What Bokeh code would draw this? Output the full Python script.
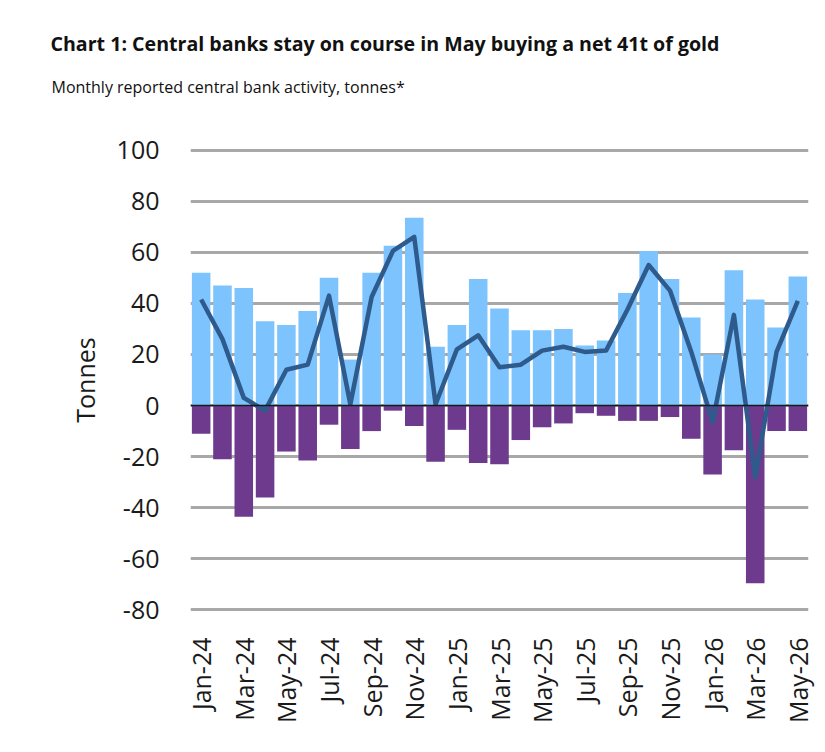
from bokeh.plotting import figure
from bokeh.models import Range1d, FixedTicker, Span, Title
from bokeh.embed import file_html
from bokeh.resources import INLINE
from bokeh.core.properties import value
import math

months = ["Jan-24", "Feb-24", "Mar-24", "Apr-24", "May-24", "Jun-24", "Jul-24", "Aug-24",
          "Sep-24", "Oct-24", "Nov-24", "Dec-24", "Jan-25", "Feb-25", "Mar-25", "Apr-25",
          "May-25", "Jun-25", "Jul-25", "Aug-25", "Sep-25", "Oct-25", "Nov-25", "Dec-25",
          "Jan-26", "Feb-26", "Mar-26", "Apr-26", "May-26"]
gross_purchases = [52, 47, 46, 33, 31.5, 37, 50, 18, 52, 62.5, 73.5, 23, 31.5, 49.5, 38,
                   29.5, 29.5, 30, 23.5, 25.5, 44, 60.5, 49.5, 34.5, 20, 53, 41.5, 30.5, 50.5]
gross_sales = [-11, -21, -43.5, -36, -18, -21.5, -7.5, -17, -10, -2, -8, -22, -9.5, -22.5, -23,
               -13.5, -8.5, -7, -3, -4, -6, -6, -4.5, -13, -27, -17.5, -69.5, -10, -10]
net = [41.5, 26, 3, -2, 14, 16, 43, 0.5, 42.5, 60.5, 66, 0.5, 22, 27.5, 15,
       16, 21.5, 23, 21, 21.5, 37.5, 55, 45, 21, -6.5, 35.5, -28, 21, 41]
y_ticks = [-80, -60, -40, -20, 0, 20, 40, 60, 80, 100]

idx = list(range(len(months)))
FONT = "Open Sans"

p = figure(width=825, height=752, output_backend="svg", toolbar_location=None,
           x_range=Range1d(-0.5, len(months) - 0.5), y_range=Range1d(-80.6, 100.6),
           min_border_left=190, min_border_right=17, min_border_top=148, min_border_bottom=141,
           background_fill_color="white", border_fill_color="white")
p.outline_line_color = None

spacer = Title(text=" ", align="left", standoff=35, text_font=FONT, text_font_size="10px")
p.add_layout(spacer, "above")
sub = Title(text="Monthly reported central bank activity, tonnes*", align="left", offset=-139,
            standoff=0, text_font=FONT, text_font_size="16px", text_font_style="normal",
            text_color="#111111")
p.add_layout(sub, "above")
main = Title(text="Chart 1: Central banks stay on course in May buying a net 41t of gold",
             align="left", offset=-140, standoff=33, text_font=FONT, text_font_size="19.6px",
             text_font_style="bold", text_color="#111111")
p.add_layout(main, "above")

p.vbar(x=idx, top=gross_purchases, bottom=0, width=0.87, fill_color="#7dc3fd", line_color=None)
p.vbar(x=idx, top=0, bottom=gross_sales, width=0.87, fill_color="#6d3a8e", line_color=None)

zero = Span(location=0, dimension="width", line_color="#1a1a1a", line_width=1.5)
p.add_layout(zero)

p.line(idx, net, line_color="#2e5a8c", line_width=4.5, line_join="round")

p.ygrid.ticker = FixedTicker(ticks=y_ticks)
p.ygrid.grid_line_color = "#a8a8a8"
p.ygrid.grid_line_width = 3
p.xgrid.grid_line_color = None

p.yaxis.ticker = FixedTicker(ticks=y_ticks)
p.yaxis.major_label_overrides = {t: str(t) for t in y_ticks}
p.yaxis.axis_line_color = None
p.yaxis.major_tick_line_color = None
p.yaxis.minor_tick_line_color = None
p.yaxis.major_label_text_font = FONT
p.yaxis.major_label_text_font_size = "25px"
p.yaxis.major_label_text_color = "#1a1a1a"
p.yaxis.major_label_standoff = 25
p.yaxis.axis_label = "Tonnes"
p.yaxis.axis_label_text_font = FONT
p.yaxis.axis_label_text_font_size = "25px"
p.yaxis.axis_label_text_font_style = "normal"
p.yaxis.axis_label_text_color = "#1a1a1a"
p.yaxis.axis_label_standoff = 12

even_idx = idx[::2]
p.xaxis.ticker = FixedTicker(ticks=even_idx)
p.xaxis.major_label_overrides = {i: months[i] for i in even_idx}
p.xaxis.major_label_orientation = math.pi / 2
p.xaxis.axis_line_color = None
p.xaxis.major_tick_line_color = None
p.xaxis.minor_tick_line_color = None
p.xaxis.major_label_text_font = FONT
p.xaxis.major_label_text_font_size = "25px"
p.xaxis.major_label_text_color = "#1a1a1a"
p.xaxis.major_label_standoff = 20

open("out.html", "w").write(file_html(p, INLINE))
